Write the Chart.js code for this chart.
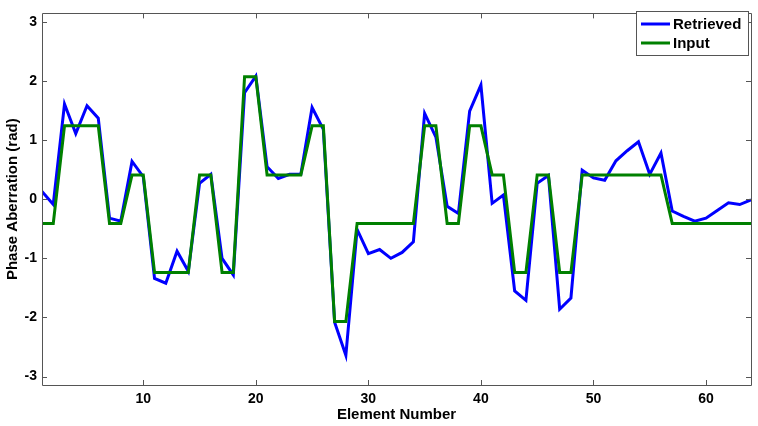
<!DOCTYPE html>
<html>
<head>
<meta charset="utf-8">
<script src="https://cdn.jsdelivr.net/npm/chart.js@4"></script>
<style>
  html, body { margin: 0; padding: 0; background: #fff; }
  #wrap { width: 758px; height: 426px; position: relative; }
</style>
</head>
<body>
<div id="wrap"><canvas id="c" width="758" height="426"></canvas></div>
<script>
const elements = Array.from({length: 64}, (_, i) => i + 1);
const retrieved = [0.13, -0.09, 1.61, 1.11, 1.58, 1.37, -0.32, -0.37, 0.64, 0.38,
  -1.34, -1.42, -0.88, -1.22, 0.27, 0.42, -1.0, -1.28, 1.80, 2.08,
  0.55, 0.35, 0.42, 0.42, 1.55, 1.18, -2.08, -2.64, -0.51, -0.92,
  -0.85, -1.0, -0.9, -0.72, 1.45, 1.05, -0.12, -0.24, 1.49, 1.93,
  -0.07, 0.07, -1.55, -1.71, 0.27, 0.40, -1.86, -1.67, 0.49, 0.36,
  0.32, 0.65, 0.82, 0.97, 0.42, 0.78, -0.2, -0.29, -0.37, -0.32,
  -0.19, -0.06, -0.09, -0.01];
const input = [-0.41, -0.41, 1.24, 1.24, 1.24, 1.24, -0.41, -0.41, 0.41, 0.41,
  -1.24, -1.24, -1.24, -1.24, 0.41, 0.41, -1.24, -1.24, 2.07, 2.07,
  0.41, 0.41, 0.41, 0.41, 1.24, 1.24, -2.07, -2.07, -0.41, -0.41,
  -0.41, -0.41, -0.41, -0.41, 1.24, 1.24, -0.41, -0.41, 1.24, 1.24,
  0.41, 0.41, -1.24, -1.24, 0.41, 0.41, -1.24, -1.24, 0.41, 0.41,
  0.41, 0.41, 0.41, 0.41, 0.41, 0.41, -0.41, -0.41, -0.41, -0.41,
  -0.41, -0.41, -0.41, -0.41];
const xTicks = [10, 20, 30, 40, 50, 60];
const yTicks = [-3, -2, -1, 0, 1, 2, 3];
const seriesNames = ['Retrieved', 'Input'];
const seriesColors = ['#0000ff', '#008000'];

const FONT = '"Liberation Sans", Arial, sans-serif';
const AXIS_COLOR = '#555555';

const boxPlugin = {
  id: 'matlabBox',
  afterDatasetsDraw(chart) {
    const {ctx, chartArea: a, scales: {x, y}} = chart;
    ctx.save();
    ctx.strokeStyle = AXIS_COLOR;
    ctx.lineWidth = 1;
    ctx.beginPath();
    ctx.rect(Math.round(a.left) + 0.5, Math.round(a.top) + 0.5,
             Math.round(a.right - a.left), Math.round(a.bottom - a.top));
    ctx.stroke();
    const tl = 5;
    ctx.beginPath();
    xTicks.forEach(v => {
      const px = Math.round(x.getPixelForValue(v)) + 0.5;
      ctx.moveTo(px, a.bottom); ctx.lineTo(px, a.bottom - tl);
      ctx.moveTo(px, a.top); ctx.lineTo(px, a.top + tl);
    });
    yTicks.forEach(v => {
      const py = Math.round(y.getPixelForValue(v)) + 0.5;
      ctx.moveTo(a.left, py); ctx.lineTo(a.left + tl, py);
      ctx.moveTo(a.right, py); ctx.lineTo(a.right - tl, py);
    });
    ctx.stroke();

    // legend
    const lx = 636, ly = 11, lw = 112, lh = 44;
    ctx.fillStyle = '#ffffff';
    ctx.fillRect(lx, ly, lw, lh);
    ctx.strokeStyle = AXIS_COLOR;
    ctx.strokeRect(lx + 0.5, ly + 0.5, lw, lh);
    ctx.font = 'bold 15px ' + FONT;
    ctx.textBaseline = 'middle';
    ctx.textAlign = 'left';
    const rows = [24, 43];
    seriesNames.forEach((n, i) => {
      ctx.strokeStyle = seriesColors[i];
      ctx.lineWidth = 3;
      ctx.beginPath();
      ctx.moveTo(641, rows[i]); ctx.lineTo(670, rows[i]);
      ctx.stroke();
      ctx.fillStyle = '#000';
      ctx.fillText(n, 673, rows[i] + 1);
    });
    ctx.restore();
  }
};

new Chart(document.getElementById('c'), {
  type: 'line',
  data: {
    labels: elements,
    datasets: [
      {
        label: seriesNames[0],
        data: elements.map((e, i) => ({x: e, y: retrieved[i]})),
        borderColor: seriesColors[0],
        borderWidth: 3,
        pointRadius: 0,
        tension: 0,
        fill: false,
        order: 1
      },
      {
        label: seriesNames[1],
        data: elements.map((e, i) => ({x: e, y: input[i]})),
        borderColor: seriesColors[1],
        borderWidth: 3,
        pointRadius: 0,
        tension: 0,
        fill: false,
        order: 0
      }
    ]
  },
  options: {
    responsive: false,
    animation: false,
    devicePixelRatio: 1,
    layout: { padding: { top: 6, right: 7, left: 0, bottom: 0 } },
    plugins: { legend: { display: false }, tooltip: { enabled: false } },
    scales: {
      x: {
        type: 'linear',
        min: 1, max: 64,
        afterBuildTicks(s) { s.ticks = xTicks.map(v => ({value: v})); },
        afterFit(s) { s.height = 41; },
        grid: { display: false, drawTicks: false },
        border: { display: false },
        ticks: { color: '#000', font: { family: FONT, size: 14, weight: 'bold' }, padding: 6, maxRotation: 0 },
        title: { display: true, text: 'Element Number', color: '#000',
                 font: { family: FONT, size: 15, weight: 'bold' }, padding: { top: 0, bottom: 2 } }
      },
      y: {
        type: 'linear',
        min: -Math.PI, max: Math.PI,
        afterBuildTicks(s) { s.ticks = yTicks.map(v => ({value: v})); },
        afterFit(s) { s.width = 42; },
        grid: { display: false, drawTicks: false },
        border: { display: false },
        ticks: { color: '#000', font: { family: FONT, size: 14, weight: 'bold' }, padding: 5 },
        title: { display: true, text: 'Phase Aberration (rad)', color: '#000',
                 font: { family: FONT, size: 15, weight: 'bold' }, padding: { top: 4, bottom: 0 } }
      }
    }
  },
  plugins: [boxPlugin]
});
</script>
</body>
</html>
